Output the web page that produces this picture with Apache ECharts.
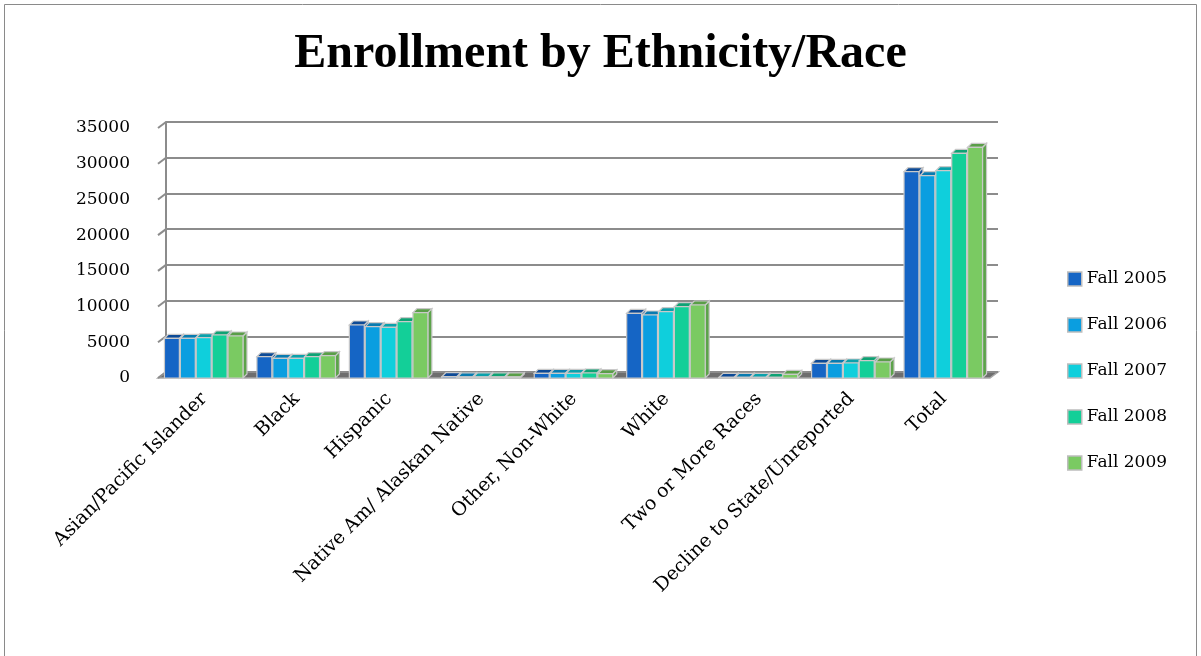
<!DOCTYPE html>
<html>
<head>
<meta charset="utf-8">
<script src="https://cdn.jsdelivr.net/npm/echarts@6/dist/echarts.min.js"></script>
<style>
  html, body { margin: 0; padding: 0; background: #fff; }
  #chart { width: 1201px; height: 656px; }
</style>
</head>
<body>
<div id="chart"></div>
<script>
// Enrollment counts per ethnicity/race group, one array per fall term
const categories = [
  'Asian/Pacific Islander', 'Black', 'Hispanic', 'Native Am/ Alaskan Native',
  'Other, Non-White', 'White', 'Two or More Races', 'Decline to State/Unreported', 'Total'
];
const seriesNames = ['Fall 2005', 'Fall 2006', 'Fall 2007', 'Fall 2008', 'Fall 2009'];
const fall2005 = [5560, 2990, 7420, 180, 650, 9060, 100, 2060, 28880];
const fall2006 = [5560, 2750, 7190, 170, 650, 8820, 100, 2060, 28320];
const fall2007 = [5650, 2750, 7100, 170, 650, 9280, 100, 2100, 29020];
const fall2008 = [6020, 2990, 7890, 160, 700, 9980, 100, 2420, 31460];
const fall2009 = [5880, 3130, 9150, 150, 600, 10220, 500, 2240, 32300];
const yTicks = [0, 5000, 10000, 15000, 20000, 25000, 30000, 35000];

const allSeries = [fall2005, fall2006, fall2007, fall2008, fall2009];
const colors = ['#1565c5', '#0a9ee0', '#0fcfdc', '#13cf98', '#7aca62'];
const tops = ['#0d4a96', '#087bb0', '#0aa1ab', '#0ea274', '#5a9e48'];
const sides = ['#0e4f9c', '#0a7fb5', '#0ba5b0', '#0ea677', '#5ca34a'];

const TITLE_FONT = '"Liberation Serif", "DejaVu Serif", serif';
const FONT = '"DejaVu Serif", "Liberation Serif", serif';
const DX = 4, DY = -4;

// A bar with a front face, top cap and right side to give a boxy look
function makeRender(idx) {
  return function (params, api) {
    const cat = api.value(0);
    const val = api.value(1);
    const base = api.coord([cat, 0]);
    const top = api.coord([cat, val]);
    const band = api.size([1, 0])[0];
    const groupW = band * 0.86;
    const w = groupW / 5;
    const x0 = base[0] - groupW / 2 + idx * w;
    const x1 = x0 + w - 1;
    const stroke = { stroke: '#c9c9c9', lineWidth: 1.2 };
    return {
      type: 'group',
      children: [
        {
          type: 'polygon',
          shape: { points: [[x1, top[1]], [x1 + DX, top[1] + DY], [x1 + DX, base[1] + DY], [x1, base[1]]] },
          style: Object.assign({ fill: sides[idx] }, stroke)
        },
        {
          type: 'polygon',
          shape: { points: [[x0, top[1]], [x0 + DX, top[1] + DY], [x1 + DX, top[1] + DY], [x1, top[1]]] },
          style: Object.assign({ fill: tops[idx] }, stroke)
        },
        {
          type: 'rect',
          shape: { x: x0, y: top[1], width: w - 1, height: base[1] - top[1] },
          style: Object.assign({ fill: colors[idx] }, stroke)
        }
      ]
    };
  };
}

// Front plane (labels) and back wall (gridlines)
const G = { left: 158, right: 211, top: 128, bottom: 278 };
const B = { left: 166, right: 203, top: 122, bottom: 284 };

const chart = echarts.init(document.getElementById('chart'), null, { renderer: 'canvas' });

chart.setOption({
  animation: false,
  color: colors,
  title: {
    text: 'Enrollment by Ethnicity/Race',
    left: 'center',
    top: 26,
    textStyle: { fontFamily: TITLE_FONT, fontSize: 48, fontWeight: 'bold', color: '#000' }
  },
  legend: {
    orient: 'vertical',
    left: 1062,
    top: 263,
    itemWidth: 14,
    itemHeight: 14,
    itemGap: 24,
    icon: 'rect',
    itemStyle: { borderColor: '#bdbdbd', borderWidth: 1.5 },
    textStyle: { fontFamily: FONT, fontSize: 17, color: '#000', lineHeight: 22 },
    data: seriesNames
  },
  grid: [
    { left: G.left, right: G.right, top: G.top, bottom: G.bottom },
    { left: B.left, right: B.right, top: B.top, bottom: B.bottom }
  ],
  xAxis: [
    {
      type: 'category',
      gridIndex: 0,
      data: categories,
      axisLine: { show: false },
      axisTick: { show: false },
      axisLabel: {
        rotate: 45,
        interval: 0,
        margin: 18,
        fontFamily: FONT,
        fontSize: 19,
        color: '#000'
      }
    },
    {
      type: 'category',
      gridIndex: 1,
      data: categories,
      axisLine: { show: false },
      axisTick: { show: false },
      axisLabel: { show: false }
    }
  ],
  yAxis: [
    {
      type: 'value',
      gridIndex: 0,
      min: 0,
      max: 35000,
      interval: 5000,
      axisLine: { show: false },
      axisTick: { show: false },
      splitLine: { show: false },
      axisLabel: {
        margin: 28,
        fontFamily: FONT,
        fontSize: 17,
        color: '#000',
        formatter: function (v) { return yTicks.indexOf(v) >= 0 ? String(v) : ''; }
      }
    },
    {
      type: 'value',
      gridIndex: 1,
      min: 0,
      max: 35000,
      interval: 5000,
      axisLine: { show: true, lineStyle: { color: '#8c8c8c', width: 2 } },
      axisTick: { show: false },
      axisLabel: { show: false },
      splitLine: { show: true, lineStyle: { color: '#8c8c8c', width: 2 } }
    }
  ],
  graphic: [
    {
      // outer frame
      type: 'rect',
      shape: { x: 4.5, y: 4.5, width: 1192, height: 660 },
      style: { fill: 'none', stroke: '#8a8a8a', lineWidth: 1 },
      silent: true
    },
    {
      // floor of the plot
      type: 'polygon',
      z: -1,
      shape: {
        points: [
          [G.left, 656 - G.bottom],
          [B.left, 656 - B.bottom],
          [1201 - B.right, 656 - B.bottom],
          [1201 - G.right, 656 - G.bottom]
        ]
      },
      style: { fill: '#6e6e6e', stroke: '#a8a8a8', lineWidth: 1.5 },
      silent: true
    },
    {
      // left wall edge ticks at each gridline
      type: 'group',
      silent: true,
      children: yTicks.map(function (t) {
        const yb = 656 - B.bottom - (250 * t / 35000);
        return {
          type: 'line',
          shape: { x1: G.left, y1: yb + 6, x2: B.left, y2: yb },
          style: { stroke: '#8c8c8c', lineWidth: 2 }
        };
      })
    }
  ],
  series: seriesNames.map(function (name, i) {
    return {
      name: name,
      type: 'custom',
      xAxisIndex: 0,
      yAxisIndex: 0,
      renderItem: makeRender(i),
      encode: { x: 0, y: 1 },
      itemStyle: { color: colors[i] },
      data: allSeries[i].map(function (v, c) { return [c, v]; })
    };
  })
});
</script>
</body>
</html>
